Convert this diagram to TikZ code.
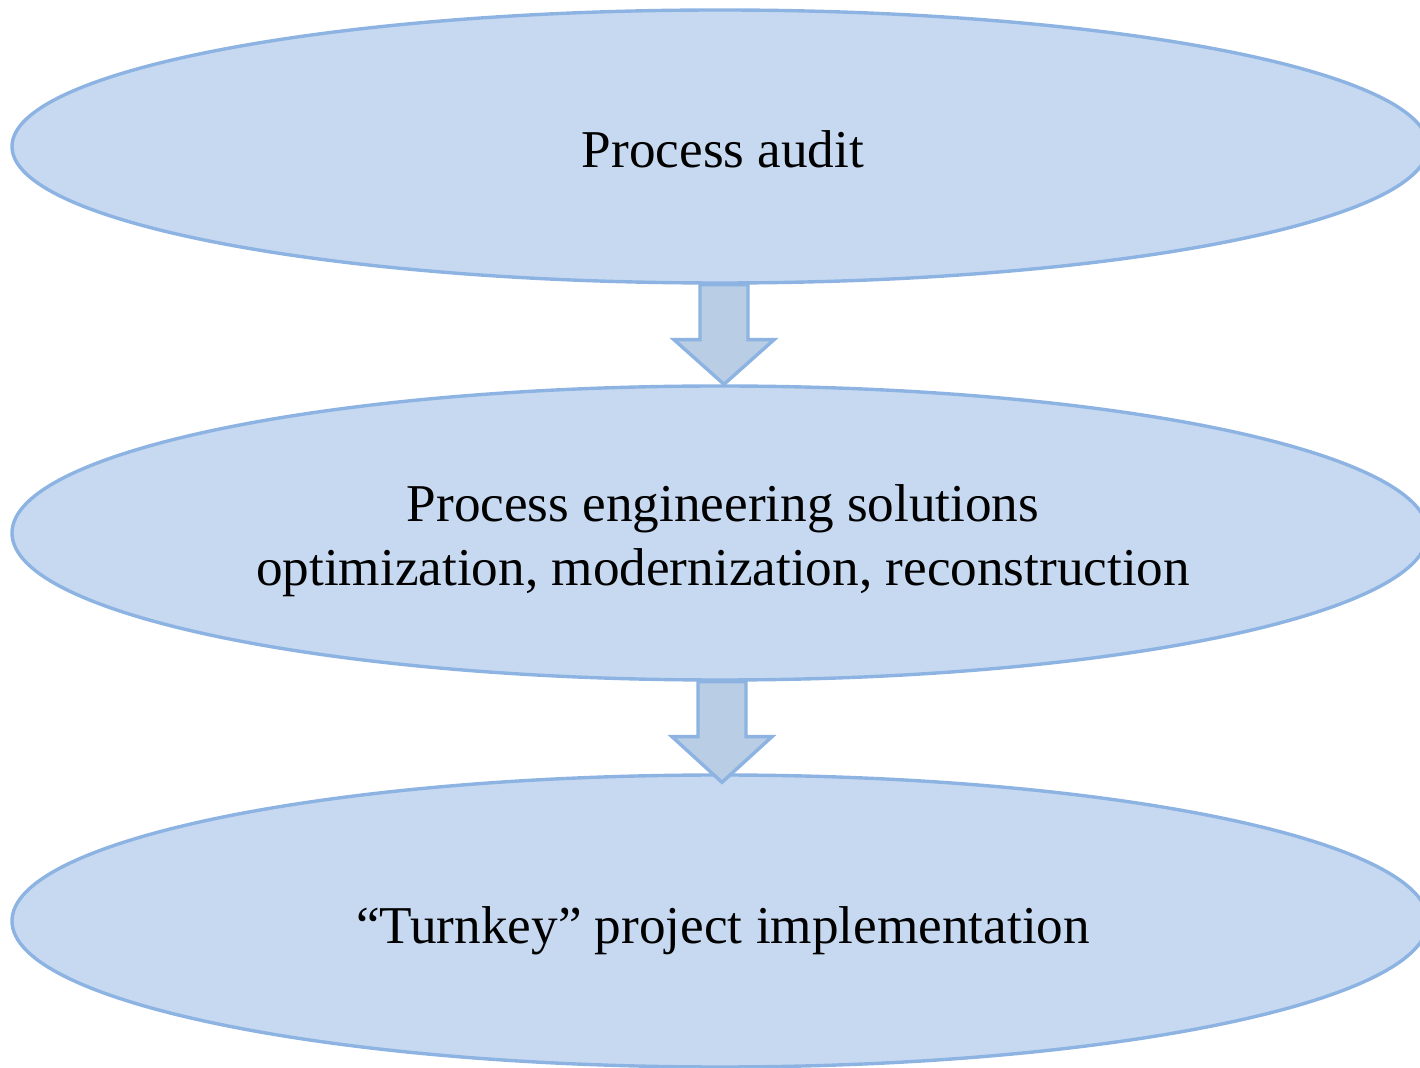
\documentclass[tikz,border=0pt]{standalone}
\usepackage{fontspec}
\setmainfont{Liberation Serif}
\usetikzlibrary{shapes.geometric,calc}
\definecolor{ellfill}{HTML}{C6D9F1}
\definecolor{ellline}{HTML}{8DB3E2}
\definecolor{arrfill}{HTML}{B9CDE5}
\begin{document}
\begin{tikzpicture}[x=0.5pt,y=-0.5pt,
  stage/.style={ellipse, draw=ellline, fill=ellfill, line width=1.7pt,
    inner sep=0pt, minimum width=708pt},
  stagetext/.style={inner sep=0pt, align=center,
    font=\fontsize{26.6}{31.8}\selectfont},
  blockarrow/.style={draw=ellline, fill=arrfill, line width=1.7pt, line join=miter}]
\useasboundingbox (0,0) rectangle (1420,1068);

% the three stages
\node[stage, minimum height=136.5pt] (audit) at (720,146.5) {};
\node[stage, minimum height=147pt] (solutions) at (720,533) {};
\node[stage, minimum height=146pt] (impl) at (720,921) {};

\node[stagetext] (auditText) at ($(audit)+(3,3)$) {Process audit};
\node[stagetext] (solutionsText) at ($(solutions)+(3,8)$)
  {Process engineering solutions\\optimization, modernization, reconstruction};
\node[stagetext] (implText) at ($(impl)+(3,10)$) {“Turnkey” project implementation};

% block arrows between stages
\coordinate (a1s) at ($(audit.south)+(4,0)$);
\coordinate (a1e) at ($(solutions.north)+(4,0)$);
\draw[blockarrow] ($(a1s)+(-24,0)$) -- ($(a1s)+(-24,55)$) -- ($(a1s)+(-50,55)$)
  -- (a1e) -- ($(a1s)+(50,55)$) -- ($(a1s)+(24,55)$) -- ($(a1s)+(24,0)$) -- cycle;

\coordinate (a2s) at ($(solutions.south)+(2,0)$);
\coordinate (a2e) at ($(impl.north)+(2,9)$);
\draw[blockarrow] ($(a2s)+(-24,0)$) -- ($(a2s)+(-24,55)$) -- ($(a2s)+(-50,55)$)
  -- (a2e) -- ($(a2s)+(50,55)$) -- ($(a2s)+(24,55)$) -- ($(a2s)+(24,0)$) -- cycle;
\end{tikzpicture}
\end{document}
